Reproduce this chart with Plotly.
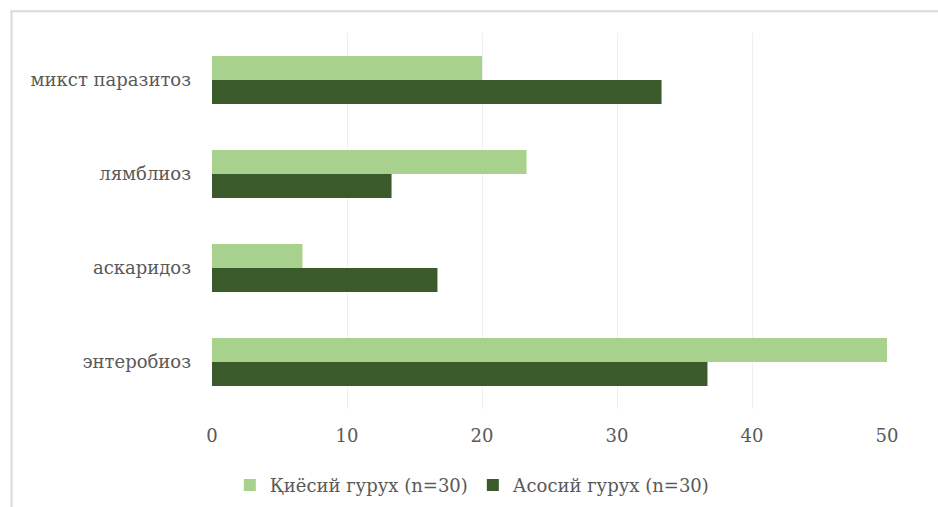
import plotly.graph_objects as go

categories = ["энтеробиоз", "аскаридоз", "лямблиоз", "микст паразитоз"]
control_name = "Қиёсий гурух (n=30)"
main_name = "Асосий гурух (n=30)"
control_values = [50.0, 6.7, 23.3, 20.0]
main_values = [36.7, 16.7, 13.3, 33.3]
x_ticks = [0, 10, 20, 30, 40, 50]

font_family = "DejaVu Serif"
text_color = "#595959"

fig = go.Figure()
fig.add_trace(go.Bar(y=categories, x=main_values, orientation="h", name=main_name,
                     marker=dict(color="#3b5a2b", line=dict(width=0))))
fig.add_trace(go.Bar(y=categories, x=control_values, orientation="h", name=control_name,
                     marker=dict(color="#a8d18d", line=dict(width=0))))

fig.update_layout(
    width=938, height=507,
    margin=dict(l=212, r=51, t=33, b=98),
    paper_bgcolor="white", plot_bgcolor="white",
    barmode="group", bargap=0.49, bargroupgap=0,
    font=dict(family=font_family, size=18, color=text_color),
    showlegend=True,
    legend=dict(orientation="h", traceorder="reversed", xref="container", yref="container",
                x=0.503, xanchor="center", y=0.043, yanchor="middle",
                font=dict(family=font_family, size=18, color=text_color), itemwidth=30),
    shapes=[dict(type="rect", xref="paper", yref="paper", x0=-0.297, x1=1.2, y0=-0.6, y1=1.058,
                 line=dict(color="#d9d9d9", width=2), fillcolor="rgba(0,0,0,0)", layer="below")],
)
fig.update_xaxes(range=[0, 50], tickvals=x_ticks, showgrid=True, gridcolor="#efefef", gridwidth=1,
                 zeroline=False, showline=False, ticks="", ticklabelstandoff=14,
                 tickfont=dict(family=font_family, size=18, color=text_color))
fig.update_yaxes(showgrid=False, zeroline=False, showline=False, ticks="", ticklabelstandoff=20,
                 tickfont=dict(family=font_family, size=18, color=text_color))

fig.write_html("out.html")
